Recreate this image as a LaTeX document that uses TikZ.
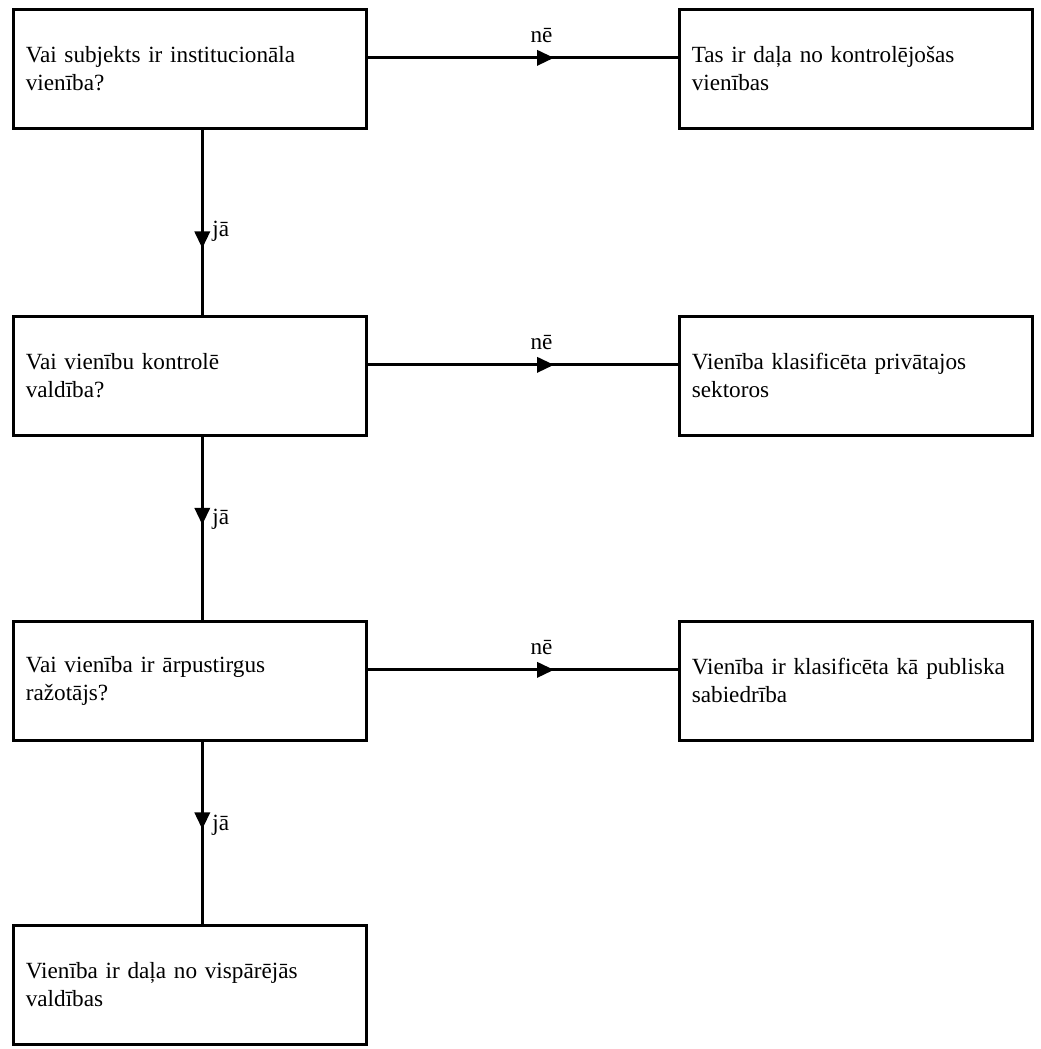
\documentclass[tikz,border=0pt]{standalone}
\usepackage{fontspec}
\setmainfont{Liberation Serif}
\usetikzlibrary{arrows.meta, decorations.markings, positioning}

\begin{document}
\begin{tikzpicture}[x=0.025cm, y=-0.025cm,
  every node/.style={inner sep=0pt, font=\fontsize{16.5pt}{20pt}\selectfont},
  box/.style={draw=black, line width=1.9pt, anchor=north west,
    minimum width=8.825cm, minimum height=2.975cm, text width=8.2cm,
    inner xsep=0.3cm, align=left},
  conn/.style={line width=2pt},
  midarrow/.style={decoration={markings,
    mark=at position #1 with {\arrow{Triangle[length=0.42cm, width=0.38cm]}}},
    postaction={decorate}}]

\useasboundingbox (0,0) rectangle (1040,1049);

% Pytania (lewa kolumna)
\foreach \i/\y/\txt in {
  1/8/{Vai subjekts ir institucionāla\\vienība?},
  2/315/{Vai vienību kontrolē\\valdība?},
  3/620/{Vai vienība ir ārpustirgus\\ražotājs?},
  4/924/{Vienība ir daļa no vispārējās\\valdības}} {
  \node[box] (q\i) at (12,\y) {\txt};
}

% Odpowiedzi (prawa kolumna)
\foreach \i/\y/\txt in {
  1/8/{Tas ir daļa no kontrolējošas\\vienības},
  2/315/{Vienība klasificēta privātajos\\sektoros},
  3/620/{Vienība ir klasificēta kā publiska\\sabiedrība}} {
  \node[box] (r\i) at (678,\y) {\txt};
}

% Krawędzie "nē"
\foreach \i in {1,2,3} {
  \draw[conn, midarrow=0.6] ([yshift=0.275cm]q\i.east) -- ([yshift=0.275cm]r\i.west)
    node[pos=0.56, yshift=0.55cm] {nē};
}

% Krawędzie "jā"
\foreach \i/\p/\l in {1/0.64/0.55, 2/0.48/0.45, 3/0.48/0.46} {
  \pgfmathtruncatemacro{\j}{\i + 1}
  \draw[conn, midarrow=\p] ([xshift=0.31cm]q\i.south) -- ([xshift=0.31cm]q\j.north)
    node[pos=\l, right=0.22cm] {jā};
}
\end{tikzpicture}
\end{document}
